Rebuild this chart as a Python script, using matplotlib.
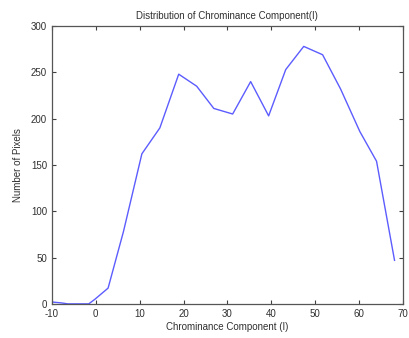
import matplotlib.pyplot as plt
import matplotlib as mpl

mpl.rcParams['font.family'] = ['Liberation Sans', 'DejaVu Sans']
mpl.rcParams['axes.unicode_minus'] = False

# chrominance values (bin centres) and pixel counts
chroma = [-10, -7.8, -6.4, -1.6, -0.2, 2.8, 6.3, 10.5, 14.6, 18.9, 23.0, 26.9,
          31.2, 35.3, 39.4, 43.3, 47.4, 51.7, 55.8, 60.2, 64.0, 68.1]
pixels = [2, 1, 0, 0, 5, 17, 78, 162, 190, 248, 235, 211,
          205, 240, 203, 253, 278, 269, 232, 186, 154, 47]

fig = plt.figure(figsize=(4.09, 3.38), dpi=100)
ax = fig.add_axes([0.127, 0.101, 0.858, 0.822])

ax.plot(chroma, pixels, color='#5c5cff', lw=1.0)

ax.set_xlim(-10, 70)
ax.set_ylim(0, 300)
ax.set_xticks(range(-10, 71, 10))
ax.set_yticks(range(0, 301, 50))
ax.tick_params(direction='in', top=True, right=True, labelsize=7,
               length=3, width=0.8, colors='#404040', labelcolor='#303030')
for s in ax.spines.values():
    s.set_color('#555555')
    s.set_linewidth(0.9)

ax.set_title('Distribution of Chrominance Component(I)', fontsize=7, color='#303030', pad=5)
ax.set_xlabel('Chrominance Component (I)', fontsize=7, color='#303030', labelpad=2)
ax.set_ylabel('Number of Pixels', fontsize=7, color='#303030', labelpad=6)

fig.savefig('out.png', dpi=100)
